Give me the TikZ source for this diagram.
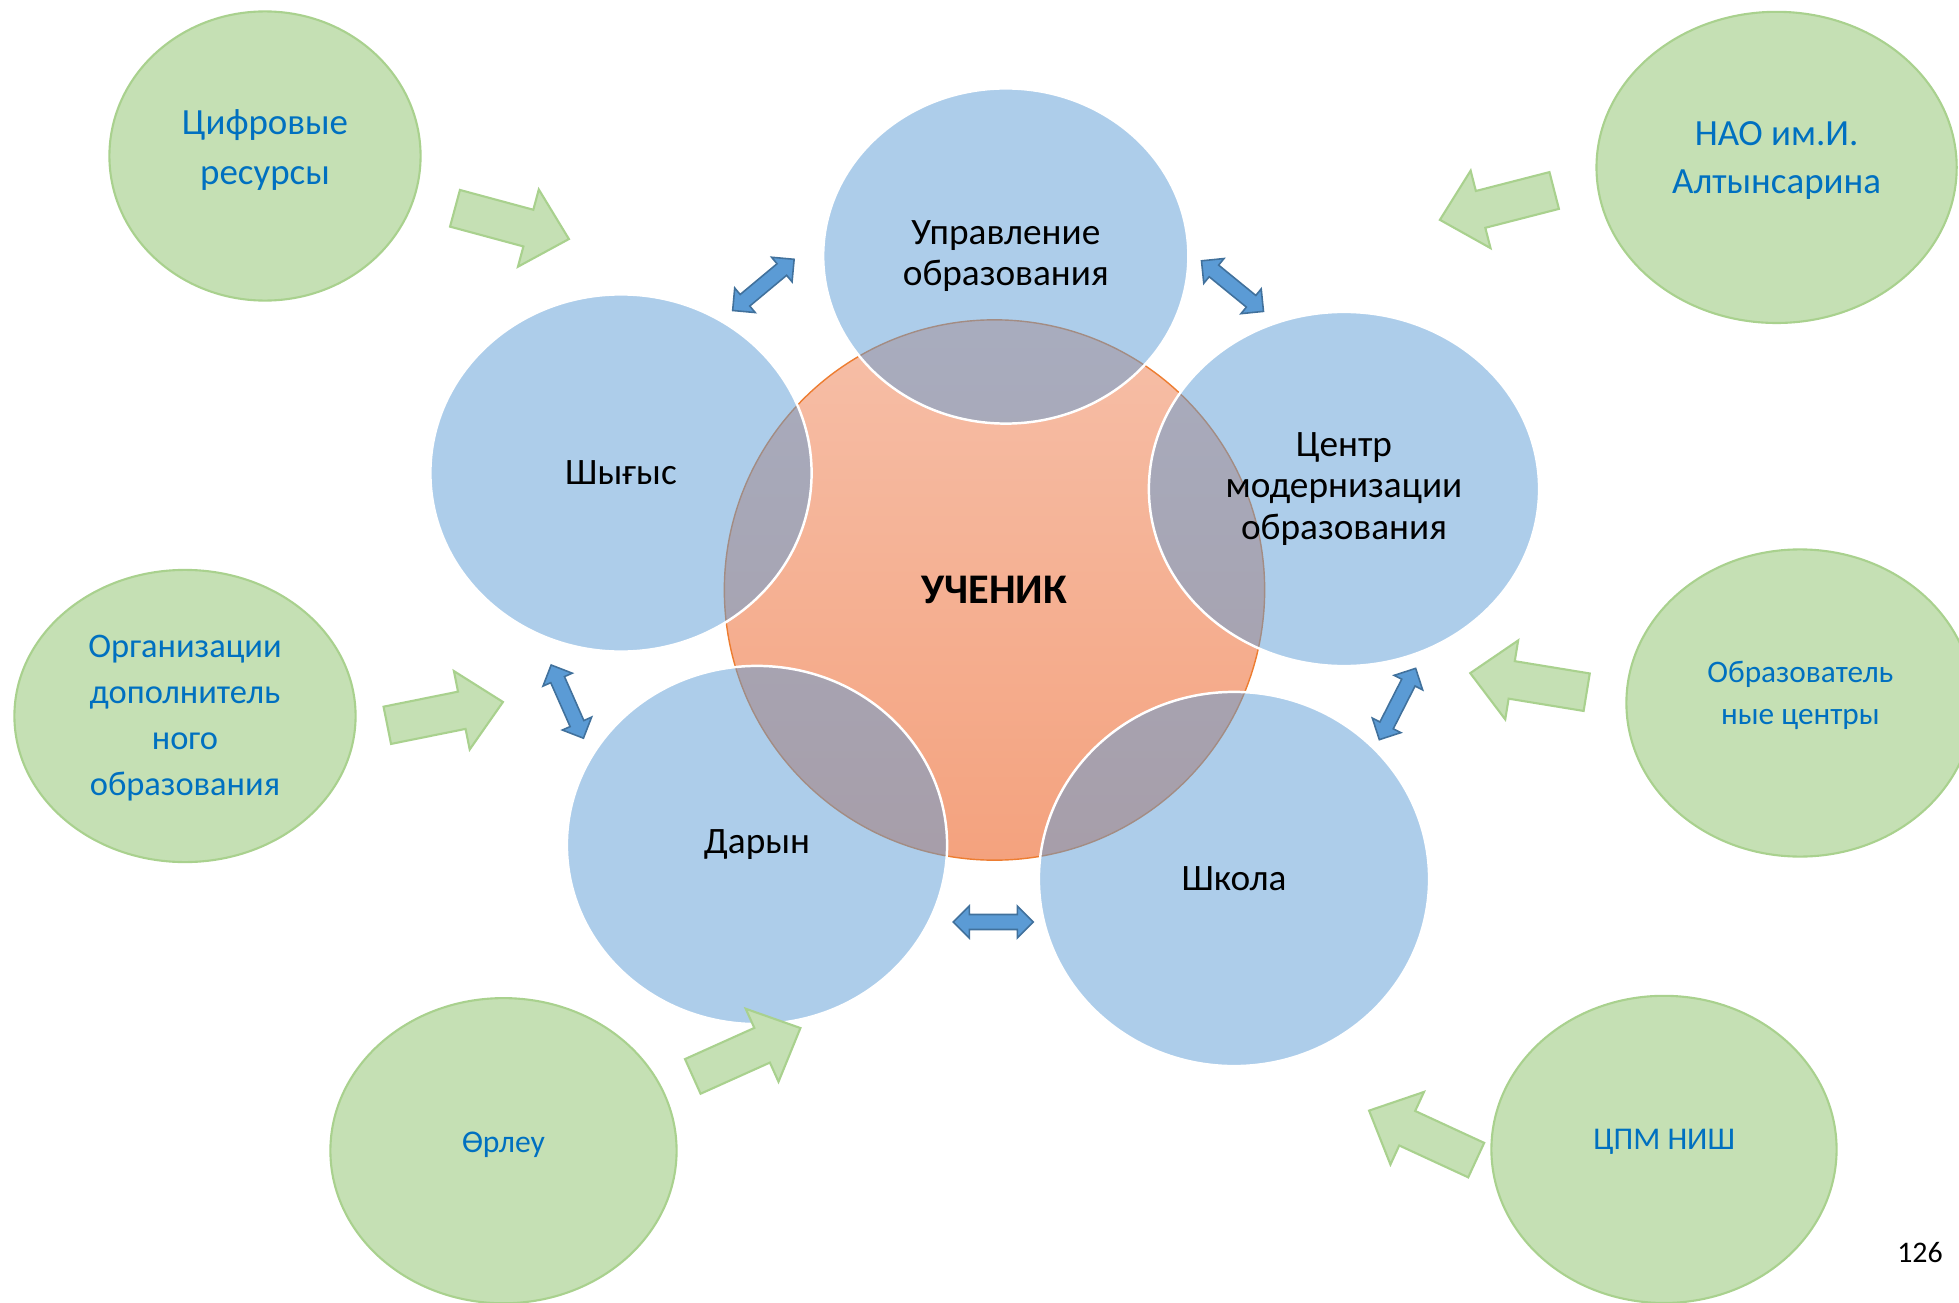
\documentclass[tikz,border=0pt]{standalone}
\usepackage{fontspec}
\setmainfont{Carlito}
\usetikzlibrary{shapes.geometric}

\definecolor{bluefill}{HTML}{5B9BD5}
\definecolor{blueline}{HTML}{41719C}
\definecolor{greenfill}{HTML}{C5E0B4}
\definecolor{greenline}{HTML}{A9D18E}
\definecolor{textblue}{HTML}{0070C0}
\definecolor{orangeline}{HTML}{ED7D31}

\tikzset{
  member/.style={ellipse, inner sep=0pt, fill=bluefill, fill opacity=0.5,
      text opacity=1, draw=white, line width=0.7pt, align=center,
      font=\fontsize{10.6}{11.7}\selectfont},
  partner/.style={ellipse, inner sep=0pt, fill=greenfill, draw=greenline,
      line width=0.6pt},
  partnertext/.style={text=textblue, align=center},
  pics/linkarrow/.style={code={
      \draw[fill=bluefill, draw=blueline, line width=0.45pt, line join=miter]
        (-40,0) -- (-24,-16) -- (-24,-7.5) -- (24,-7.5) -- (24,-16) -- (40,0)
        -- (24,16) -- (24,7.5) -- (-24,7.5) -- (-24,16) -- cycle;
    }},
  pics/feedarrow/.style={code={
      \draw[fill=greenfill, draw=greenline, line width=0.6pt, line join=miter]
        (0,-19) -- (76,-19) -- (76,-40) -- (118,0) -- (76,40) -- (76,19)
        -- (0,19) -- cycle;
    }}
}

\begin{document}
\begin{tikzpicture}[x=0.01cm, y=-0.01cm]
    \useasboundingbox (0,0) rectangle (1959,1303);

    % centre
    \node[circle, minimum size=5.4cm, inner sep=0pt, top color={rgb,255:red,246;green,191;blue,168},
      bottom color={rgb,255:red,244;green,162;blue,126}, draw=orangeline, line width=0.4pt,
      font=\fontsize{12}{13}\selectfont\bfseries] (pupil) at (994.5,590) {УЧЕНИК};

    % members round the pupil
    \node[member, minimum width=3.65cm, minimum height=3.35cm] (admin) at (1005.8,256) {Управление\\образования};
    \node[member, minimum width=3.81cm, minimum height=3.57cm] (shygys) at (621,473) {Шығыс};
    \node[member, minimum width=3.9cm, minimum height=3.54cm] (centre) at (1344,489) {Центр\\модернизации\\образования};
    \node[member, minimum width=3.8cm, minimum height=3.58cm] (daryn) at (757,845) {Дарын};
    \node[member, minimum width=3.9cm, minimum height=3.74cm] (school) at (1234,879) {Школа};

    \foreach \px/\py/\ang in {763.4/284.9/39.8, 1232.5/286.1/-39.2, 567.3/701.6/-66.2,
        1397.5/704/63, 993.3/922/0} {
        \pic[rotate=\ang] at (\px,\py) {linkarrow};
      }

    % partners
    \node[partner, minimum width=3.11cm, minimum height=2.89cm] (digital) at (265,156) {};
    \node[partner, minimum width=3.6cm, minimum height=3.11cm] (nao) at (1776.6,167.4) {};
    \node[partner, minimum width=3.41cm, minimum height=2.92cm] (extra) at (185,716) {};
    \node[partner, minimum width=3.47cm, minimum height=3.07cm] (edcentres) at (1800,703) {};
    \node[partner, minimum width=3.46cm, minimum height=3.05cm] (orleu) at (503.5,1150.7) {};
    \node[partner, minimum width=3.45cm, minimum height=3.07cm] (cpm) at (1664,1149.4) {};

    \node[partnertext, font=\fontsize{10.5}{14.2}\selectfont] (digital-t) at (265,150) {Цифровые\\ресурсы};
    \node[partnertext, font=\fontsize{10.5}{13.9}\selectfont] (nao-t) at (1776.6,160.5) {НАО им.И.\\Алтынсарина};
    \node[partnertext, font=\fontsize{9.8}{13.1}\selectfont] (extra-t) at (185,718) {Организации\\дополнитель\\ного\\образования};
    \node[partnertext, font=\fontsize{8.9}{12.1}\selectfont] (edcentres-t) at (1800.4,695.5) {Образователь\\ные центры};
    \node[partnertext, font=\fontsize{9}{11}\selectfont] (orleu-t) at (503.5,1144.5) {Өрлеу};
    \node[partnertext, font=\fontsize{9}{11}\selectfont] (cpm-t) at (1664.2,1142) {ЦПМ НИШ};

    \foreach \px/\py/\ang in {455/208.3/-15.1, 1554.2/190.5/194.4, 387.3/725.3/11.4,
        1586.7/692.2/170.7, 692.8/1076.4/24.2, 1476.2/1160.1/155.2} {
        \pic[rotate=\ang] at (\px,\py) {feedarrow};
      }

    \node[font=\fontsize{8.5}{10}\selectfont] (page) at (1920,1253) {126};
  \end{tikzpicture}
\end{document}
